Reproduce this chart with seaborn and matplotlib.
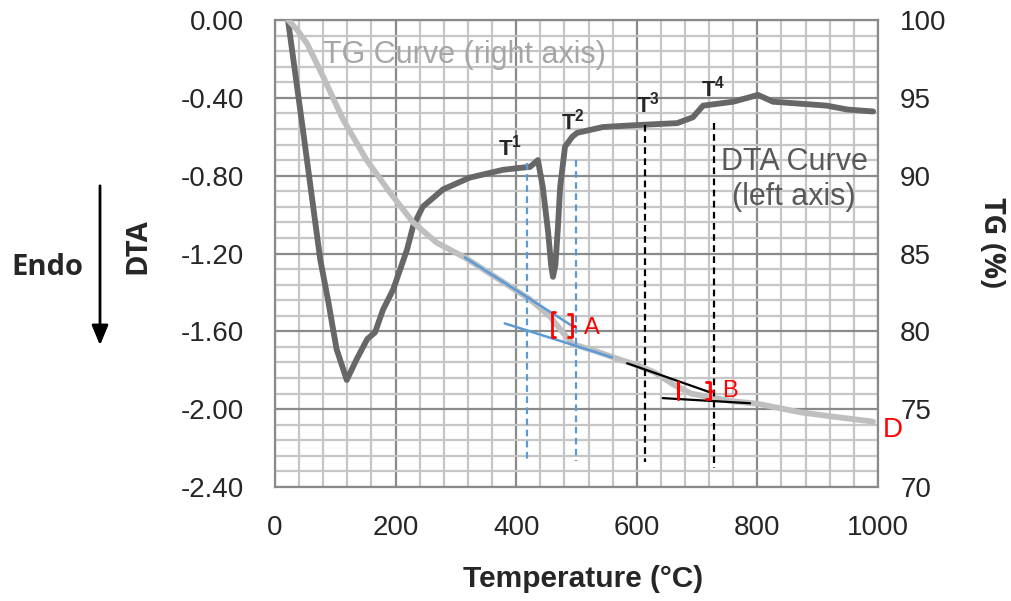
import matplotlib
matplotlib.use("Agg")
import matplotlib.pyplot as plt
from matplotlib.ticker import MultipleLocator
import seaborn as sns

# DTA curve (left axis)
dta_temp = [22, 47, 75, 88, 102, 119, 136, 153, 166, 179, 196, 219, 229, 245, 279, 323,
            378, 406, 423, 436, 444, 453, 458, 461, 465, 469, 473, 481, 493, 501, 544,
            600, 667, 693, 710, 760, 801, 826, 871, 915, 949, 992]
dta_val = [-0.01, -0.58, -1.23, -1.44, -1.69, -1.85, -1.74, -1.64, -1.605, -1.49, -1.385,
           -1.18, -1.06, -0.96, -0.87, -0.81, -0.77, -0.76, -0.755, -0.72, -0.856, -1.09,
           -1.26, -1.32, -1.26, -1.077, -0.856, -0.651, -0.60, -0.58, -0.55, -0.54, -0.53,
           -0.50, -0.44, -0.42, -0.385, -0.42, -0.43, -0.44, -0.46, -0.47]

# TG curve (right axis)
tg_temp = [22, 36, 53, 80, 113, 152, 191, 229, 268, 315, 373, 423, 456, 473, 494, 530,
           561, 605, 630, 660, 690, 721, 760, 800, 871, 930, 992]
tg_val = [100, 99.4, 98.5, 96.35, 93.6, 91.0, 88.9, 87.0, 85.7, 84.74, 83.3, 82.05, 80.96,
          80.13, 79.17, 78.75, 78.33, 77.76, 77.35, 76.6, 76.0, 75.77, 75.5, 75.35, 74.8,
          74.5, 74.2]

x_ticks = [0, 200, 400, 600, 800, 1000]
dta_ticks = [0.0, -0.4, -0.8, -1.2, -1.6, -2.0, -2.4]
tg_ticks = [70, 75, 80, 85, 90, 95, 100]

# tangents on the TG curve (deg C, TG %)
tan_a1_x, tan_a1_y = [315, 494], [84.74, 80.32]
tan_a2_x, tan_a2_y = [381, 559], [80.51, 78.33]
tan_b1_x, tan_b1_y = [584, 721], [77.95, 76.09]
tan_b2_x, tan_b2_y = [643, 788], [75.71, 75.38]

# event temperatures T1..T4 (dashed markers, DTA units)
event_temp = [418, 499, 614, 728]
event_top = [-0.733, -0.718, -0.54, -0.53]
event_bot = [-2.27, -2.267, -2.27, -2.30]
event_col = ['#5b9bd5', '#5b9bd5', 'black', 'black']
label_temp = [390, 494, 619, 726]
label_val = [-0.656, -0.52, -0.436, -0.35]

# mass-loss brackets (temp, TG low, TG high, kind)
brackets = [(459, 79.62, 81.22, 'l'), (492, 79.62, 81.09, 'r'),
            (668, 75.64, 76.73, 'i'), (721, 75.64, 76.73, 'r')]

sns.set_style("white")
plt.rcParams['font.family'] = ['Liberation Sans', 'DejaVu Sans']
plt.rcParams['axes.unicode_minus'] = False
plt.rcParams['mathtext.fontset'] = 'custom'
plt.rcParams['mathtext.bf'] = 'Liberation Sans:bold'

fig = plt.figure(figsize=(10.11, 6.01), dpi=100)
ax = fig.add_axes([0.272, 0.1897, 0.5964, 0.777])

ax.set_xlim(0, 1000)
ax.set_ylim(-2.4, 0)
ax.set_xticks(x_ticks)
ax.set_yticks(dta_ticks)
ax.set_yticklabels(['%.2f' % v for v in dta_ticks], fontsize=20)
ax.set_xticklabels([str(v) for v in x_ticks], fontsize=20)
ax.xaxis.set_minor_locator(MultipleLocator(40))
ax.yaxis.set_minor_locator(MultipleLocator(0.08))
ax.grid(which='minor', color='#c6c6c6', lw=1.6)
ax.grid(which='major', color='#8a8a8a', lw=1.6)
ax.tick_params(which='both', length=0)
ax.tick_params(axis='y', pad=22)
ax.tick_params(axis='x', pad=20)
for s in ax.spines.values():
    s.set_color('#8a8a8a')
    s.set_linewidth(1.6)

sns.lineplot(x=dta_temp, y=dta_val, ax=ax, color='#676767', lw=4.2)

ax2 = ax.twinx()
ax2.set_ylim(70, 100)
ax2.set_yticks(tg_ticks)
ax2.set_yticklabels([str(v) for v in tg_ticks], fontsize=20)
ax2.tick_params(length=0, pad=16)
for s in ax2.spines.values():
    s.set_visible(False)

sns.lineplot(x=tg_temp, y=tg_val, ax=ax2, color='#bfbfbf', lw=4.2)

ax2.plot(tan_a1_x, tan_a1_y, color='#5b9bd5', lw=1.8)
ax2.plot(tan_a2_x, tan_a2_y, color='#5b9bd5', lw=1.8)
ax2.plot(tan_b1_x, tan_b1_y, color='black', lw=1.6)
ax2.plot(tan_b2_x, tan_b2_y, color='black', lw=1.6)

for t, y0, y1, c in zip(event_temp, event_top, event_bot, event_col):
    ax2.plot([t, t], [y0, y1], color=c, lw=1.6, ls=(0, (3, 2)), transform=ax.transData)

for i, (t, v) in enumerate(zip(label_temp, label_val)):
    ax.text(t, v, r'$\mathbf{T^{%d}}$' % (i + 1), ha='center', va='center', fontsize=16)

for t, lo, hi, kind in brackets:
    if kind == 'i':
        ax2.plot([t, t], [lo, hi], color='red', lw=2.2)
        continue
    d = 6 if kind == 'l' else -6
    ax2.plot([t + d, t, t, t + d], [hi, hi, lo, lo], color='red', lw=2)
    if kind == 'r':
        ax2.plot([t, t + 6], [(lo + hi) / 2] * 2, color='red', lw=2)

ax2.text(526, 80.2, 'A', color='red', fontsize=17, ha='center', va='center')
ax2.text(755, 76.15, 'B', color='red', fontsize=17, ha='center', va='center')
ax2.text(1025, 73.65, 'D', color='red', fontsize=20, ha='center', va='center', clip_on=False)

ax.text(80, -0.18, 'TG Curve (right axis)', color='#a6a6a6', fontsize=22,
        ha='left', va='center')
ax.text(861, -0.82, 'DTA Curve\n(left axis)', color='#595959', fontsize=22,
        ha='center', va='center', linespacing=1.25)

ax.set_xlabel('')
ax.set_ylabel('')
ax2.set_ylabel('')

fig.text(583 / 1011, 1 - 579 / 601, 'Temperature (°C)', ha='center', va='center',
         fontsize=21.5, fontweight='bold')
side_font = ['Open Sans', 'DejaVu Sans']
fig.text(138 / 1011, 1 - 246 / 601, 'DTA', rotation=90, ha='center', va='center',
         fontsize=21, fontweight='bold', family=side_font)
fig.text(47 / 1011, 1 - 267 / 601, 'Endo', ha='center', va='center',
         fontsize=21, fontweight='bold', family=side_font)
fig.text(991 / 1011, 1 - 242 / 601, 'TG (%)', rotation=270, ha='center', va='center',
         fontsize=21, fontweight='bold', family=side_font)
fig.add_artist(matplotlib.patches.FancyArrowPatch(
    (100 / 1011, 1 - 183 / 601), (100 / 1011, 1 - 348 / 601), transform=fig.transFigure,
    arrowstyle='-|>,head_length=0.6,head_width=0.25', mutation_scale=20, color='black', lw=2))

fig.savefig('out.png', dpi=100, facecolor='white')
